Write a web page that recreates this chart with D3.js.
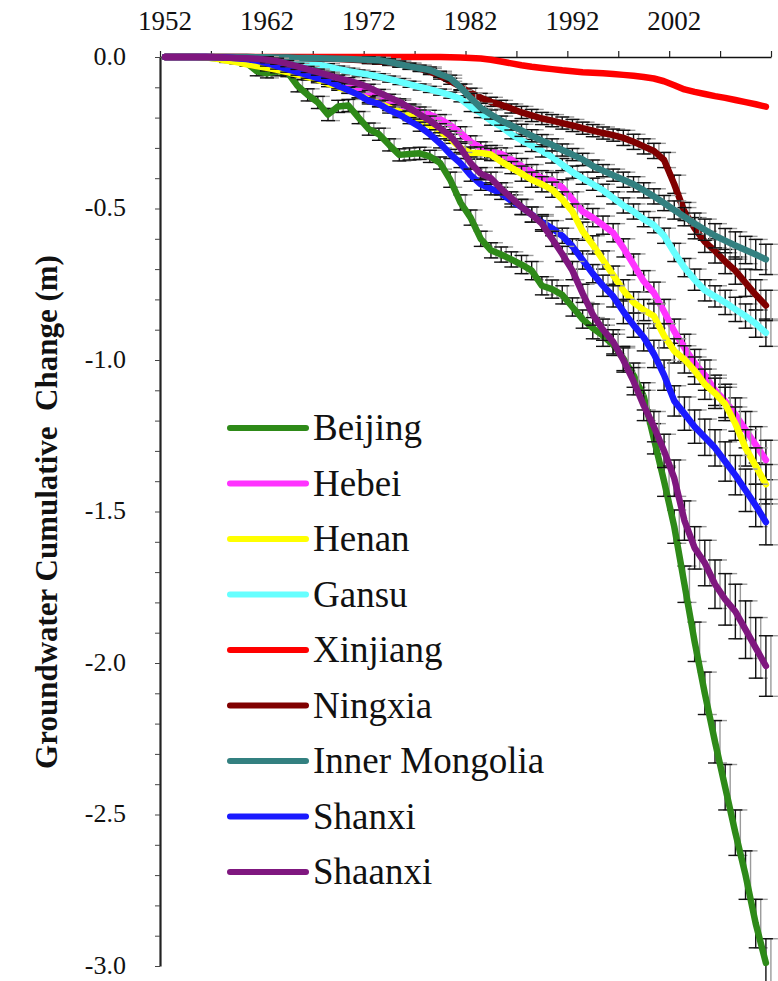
<!DOCTYPE html>
<html>
<head>
<meta charset="utf-8">
<script src="https://cdn.jsdelivr.net/npm/d3@7"></script>
<style>
  body { margin: 0; background: #fff; }
  text { font-family: "Liberation Serif", "Times New Roman", Times, "DejaVu Serif", serif; fill: #111; }
</style>
</head>
<body>
<script>
//size of svg
const canvWidth = 778;
const canvHeight = 981;

//plot box (pixel edges of the axes)
const plot = {left: 160, right: 771, top: 57, bottom: 966};

const serif = "'Liberation Serif', 'Times New Roman', Times, 'DejaVu Serif', serif";

//**************************************************************************
//Data

const years = [
  1952, 1953, 1954, 1955, 1956, 1957, 1958, 1959, 1960, 1961,
  1962, 1963, 1964, 1965, 1966, 1967, 1968, 1969, 1970, 1971,
  1972, 1973, 1974, 1975, 1976, 1977, 1978, 1979, 1980, 1981,
  1982, 1983, 1984, 1985, 1986, 1987, 1988, 1989, 1990, 1991,
  1992, 1993, 1994, 1995, 1996, 1997, 1998, 1999, 2000, 2001,
  2002, 2003, 2004, 2005, 2006, 2007, 2008, 2009, 2010, 2011
];

const xTickLabels = ["1952", "1962", "1972", "1982", "1992", "2002"];
const yTickLabels = ["0.0", "-0.5", "-1.0", "-1.5", "-2.0", "-2.5", "-3.0"];

const provinces = ["Beijing", "Hebei", "Henan", "Gansu", "Xinjiang", "Ningxia", "Inner Mongolia", "Shanxi", "Shaanxi"];
const colors = ["#2e8a18", "#ff33ff", "#ffff00", "#66ffff", "#ff0000", "#800000", "#338080", "#1a1aff", "#7f177f"];

const beijing = [
  0, 0, 0, 0, -0.002, -0.004, -0.008, -0.012, -0.02, -0.047,
  -0.054, -0.047, -0.05, -0.095, -0.125, -0.15, -0.19, -0.163, -0.16, -0.2,
  -0.238, -0.255, -0.29, -0.323, -0.32, -0.318, -0.328, -0.35, -0.405, -0.48,
  -0.53, -0.6, -0.638, -0.652, -0.668, -0.685, -0.705, -0.755, -0.766, -0.785,
  -0.825, -0.865, -0.895, -0.92, -0.95, -0.995, -1.05, -1.12, -1.26, -1.40,
  -1.55, -1.74, -1.93, -2.10, -2.26, -2.41, -2.56, -2.70, -2.86, -2.99
];
const hebei = [
  0, 0, 0, 0, 0, -0.001, -0.002, -0.003, -0.005, -0.007,
  -0.01, -0.015, -0.022, -0.03, -0.04, -0.052, -0.065, -0.08, -0.095, -0.108,
  -0.12, -0.132, -0.145, -0.158, -0.17, -0.18, -0.191, -0.205, -0.225, -0.25,
  -0.28, -0.3, -0.312, -0.32, -0.338, -0.36, -0.38, -0.4, -0.406, -0.43,
  -0.47, -0.51, -0.53, -0.555, -0.58, -0.63, -0.685, -0.74, -0.778, -0.84,
  -0.905, -0.96, -1.01, -1.05, -1.1, -1.135, -1.18, -1.23, -1.28, -1.33
];
const henan = [
  0, 0, 0, 0, -0.002, -0.005, -0.012, -0.017, -0.024, -0.03,
  -0.036, -0.042, -0.05, -0.058, -0.066, -0.075, -0.088, -0.1, -0.11, -0.125,
  -0.14, -0.153, -0.167, -0.18, -0.195, -0.21, -0.225, -0.245, -0.27, -0.3,
  -0.317, -0.317, -0.322, -0.345, -0.365, -0.385, -0.405, -0.42, -0.438, -0.47,
  -0.51, -0.575, -0.62, -0.67, -0.72, -0.77, -0.81, -0.835, -0.855, -0.92,
  -0.97, -0.998, -1.035, -1.08, -1.11, -1.145, -1.21, -1.29, -1.35, -1.41
];
const gansu = [
  0, 0, 0, 0, 0, 0, 0, -0.001, -0.002, -0.003,
  -0.005, -0.007, -0.01, -0.014, -0.019, -0.025, -0.032, -0.04, -0.047, -0.053,
  -0.058, -0.065, -0.073, -0.081, -0.09, -0.099, -0.107, -0.116, -0.126, -0.138,
  -0.165, -0.185, -0.21, -0.23, -0.255, -0.275, -0.292, -0.31, -0.33, -0.355,
  -0.38, -0.4, -0.42, -0.44, -0.465, -0.49, -0.51, -0.535, -0.555, -0.59,
  -0.645, -0.695, -0.735, -0.77, -0.79, -0.81, -0.833, -0.855, -0.88, -0.91
];
const xinjiang = [
  0, 0, 0, 0, 0, 0, 0, 0, 0, 0,
  0, 0, 0, 0, 0, 0, 0, 0, 0, 0,
  0, 0, 0, 0, 0, 0, 0, 0, -0.001, -0.002,
  -0.003, -0.005, -0.009, -0.015, -0.021, -0.027, -0.032, -0.036, -0.04, -0.044,
  -0.047, -0.05, -0.052, -0.054, -0.056, -0.059, -0.062, -0.066, -0.071, -0.08,
  -0.093, -0.107, -0.115, -0.122, -0.129, -0.135, -0.142, -0.149, -0.156, -0.164
];
const ningxia = [
  0, 0, 0, 0, 0, 0, 0, 0, 0, -0.001,
  -0.001, -0.002, -0.002, -0.003, -0.004, -0.005, -0.006, -0.007, -0.008, -0.01,
  -0.012, -0.014, -0.018, -0.023, -0.03, -0.038, -0.048, -0.063, -0.08, -0.098,
  -0.118, -0.135, -0.148, -0.158, -0.17, -0.183, -0.193, -0.203, -0.21, -0.218,
  -0.226, -0.235, -0.243, -0.251, -0.258, -0.267, -0.28, -0.295, -0.31, -0.34,
  -0.42, -0.51, -0.565, -0.61, -0.64, -0.675, -0.705, -0.745, -0.785, -0.82
];
const innerMongolia = [
  0, 0, 0, 0, 0, 0, 0, 0, 0, -0.001,
  -0.001, -0.002, -0.002, -0.003, -0.003, -0.004, -0.005, -0.006, -0.007, -0.008,
  -0.009, -0.011, -0.016, -0.024, -0.031, -0.037, -0.043, -0.057, -0.07, -0.1,
  -0.135, -0.168, -0.19, -0.21, -0.226, -0.242, -0.26, -0.276, -0.29, -0.307,
  -0.322, -0.338, -0.36, -0.375, -0.39, -0.405, -0.42, -0.44, -0.46, -0.482,
  -0.505, -0.527, -0.55, -0.57, -0.59, -0.606, -0.622, -0.637, -0.652, -0.668
];
const shanxi = [
  0, 0, 0, 0, 0, -0.001, -0.002, -0.004, -0.007, -0.012,
  -0.02, -0.03, -0.04, -0.05, -0.06, -0.07, -0.08, -0.095, -0.11, -0.125,
  -0.145, -0.155, -0.175, -0.19, -0.21, -0.23, -0.255, -0.285, -0.32, -0.35,
  -0.39, -0.42, -0.435, -0.45, -0.475, -0.495, -0.52, -0.545, -0.565, -0.59,
  -0.625, -0.67, -0.715, -0.755, -0.79, -0.84, -0.885, -0.925, -0.98, -1.05,
  -1.135, -1.177, -1.22, -1.255, -1.29, -1.335, -1.38, -1.43, -1.48, -1.535
];
const shaanxi = [
  0, 0, 0, 0, 0, -0.001, -0.002, -0.003, -0.004, -0.006,
  -0.009, -0.014, -0.022, -0.031, -0.041, -0.05, -0.06, -0.07, -0.078, -0.088,
  -0.1, -0.117, -0.133, -0.148, -0.168, -0.19, -0.21, -0.235, -0.26, -0.3,
  -0.35, -0.385, -0.4, -0.435, -0.465, -0.495, -0.52, -0.55, -0.6, -0.65,
  -0.705, -0.78, -0.85, -0.9, -0.94, -1.0, -1.07, -1.15, -1.22, -1.3,
  -1.39, -1.53, -1.62, -1.67, -1.74, -1.79, -1.83, -1.89, -1.95, -2.01
];

//error bars (+/- m), same years
const errBeijing = [
  0, 0, 0, 0, 0, 0, 0.01, 0.01, 0.01, 0.015,
  0.015, 0.015, 0.015, 0.02, 0.02, 0.02, 0.02, 0.02, 0.02, 0.02,
  0.02, 0.02, 0.02, 0.02, 0.02, 0.02, 0.02, 0.02, 0.025, 0.025,
  0.025, 0.025, 0.025, 0.025, 0.025, 0.03, 0.03, 0.03, 0.03, 0.03,
  0.03, 0.03, 0.035, 0.035, 0.035, 0.04, 0.04, 0.045, 0.05, 0.05,
  0.055, 0.06, 0.065, 0.07, 0.07, 0.075, 0.075, 0.08, 0.08, 0.08
];
const errHebei = [
  0, 0, 0, 0, 0, 0, 0.005, 0.005, 0.005, 0.005,
  0.01, 0.01, 0.01, 0.01, 0.01, 0.01, 0.01, 0.01, 0.01, 0.01,
  0.01, 0.01, 0.01, 0.015, 0.015, 0.015, 0.015, 0.015, 0.015, 0.02,
  0.02, 0.02, 0.02, 0.02, 0.02, 0.025, 0.025, 0.025, 0.025, 0.025,
  0.025, 0.025, 0.03, 0.03, 0.03, 0.03, 0.035, 0.035, 0.035, 0.04,
  0.04, 0.045, 0.045, 0.05, 0.05, 0.055, 0.055, 0.06, 0.06, 0.065
];
const errHenan = [
  0, 0, 0, 0, 0, 0, 0.005, 0.005, 0.005, 0.005,
  0.01, 0.01, 0.01, 0.01, 0.01, 0.01, 0.01, 0.01, 0.01, 0.01,
  0.01, 0.01, 0.01, 0.015, 0.015, 0.015, 0.015, 0.015, 0.015, 0.02,
  0.02, 0.02, 0.02, 0.02, 0.02, 0.025, 0.025, 0.025, 0.025, 0.025,
  0.025, 0.03, 0.03, 0.03, 0.03, 0.035, 0.035, 0.035, 0.04, 0.04,
  0.04, 0.045, 0.045, 0.05, 0.05, 0.055, 0.055, 0.06, 0.06, 0.065
];
const errGansu = [
  0, 0, 0, 0, 0, 0, 0, 0, 0.005, 0.005,
  0.005, 0.005, 0.005, 0.005, 0.005, 0.01, 0.01, 0.01, 0.01, 0.01,
  0.01, 0.01, 0.01, 0.01, 0.01, 0.01, 0.01, 0.01, 0.01, 0.01,
  0.015, 0.015, 0.015, 0.015, 0.015, 0.02, 0.02, 0.02, 0.02, 0.02,
  0.02, 0.02, 0.02, 0.02, 0.02, 0.025, 0.025, 0.025, 0.025, 0.025,
  0.03, 0.03, 0.035, 0.035, 0.035, 0.04, 0.04, 0.04, 0.045, 0.045
];
const errXinjiang = [];
const errNingxia = [
  0, 0, 0, 0, 0, 0, 0, 0, 0, 0,
  0.005, 0.005, 0.005, 0.005, 0.005, 0.005, 0.005, 0.005, 0.005, 0.005,
  0.01, 0.01, 0.01, 0.01, 0.01, 0.01, 0.01, 0.01, 0.01, 0.01,
  0.015, 0.015, 0.015, 0.015, 0.015, 0.02, 0.02, 0.02, 0.02, 0.02,
  0.02, 0.02, 0.02, 0.02, 0.02, 0.025, 0.025, 0.025, 0.025, 0.025,
  0.03, 0.03, 0.035, 0.035, 0.04, 0.04, 0.045, 0.045, 0.05, 0.05
];
const errInnerMongolia = [
  0, 0, 0, 0, 0, 0, 0, 0, 0, 0,
  0.005, 0.005, 0.005, 0.005, 0.005, 0.005, 0.005, 0.005, 0.005, 0.005,
  0.01, 0.01, 0.01, 0.01, 0.01, 0.01, 0.01, 0.01, 0.01, 0.01,
  0.015, 0.015, 0.015, 0.015, 0.015, 0.02, 0.02, 0.02, 0.02, 0.02,
  0.02, 0.02, 0.02, 0.02, 0.02, 0.025, 0.025, 0.025, 0.025, 0.025,
  0.03, 0.03, 0.035, 0.035, 0.04, 0.04, 0.045, 0.045, 0.05, 0.05
];
const errShanxi = [
  0, 0, 0, 0, 0, 0, 0.005, 0.005, 0.005, 0.005,
  0.01, 0.01, 0.01, 0.01, 0.01, 0.01, 0.01, 0.01, 0.01, 0.01,
  0.01, 0.01, 0.01, 0.01, 0.01, 0.015, 0.015, 0.015, 0.015, 0.015,
  0.02, 0.02, 0.02, 0.02, 0.02, 0.025, 0.025, 0.025, 0.025, 0.025,
  0.025, 0.03, 0.03, 0.035, 0.035, 0.04, 0.04, 0.045, 0.045, 0.05,
  0.05, 0.055, 0.055, 0.06, 0.06, 0.065, 0.065, 0.07, 0.07, 0.075
];
const errShaanxi = [
  0, 0, 0, 0, 0, 0, 0.005, 0.005, 0.005, 0.005,
  0.01, 0.01, 0.01, 0.01, 0.01, 0.01, 0.01, 0.01, 0.01, 0.01,
  0.01, 0.01, 0.01, 0.01, 0.01, 0.015, 0.015, 0.015, 0.015, 0.015,
  0.02, 0.02, 0.02, 0.02, 0.02, 0.025, 0.025, 0.025, 0.025, 0.025,
  0.03, 0.03, 0.035, 0.035, 0.04, 0.04, 0.045, 0.05, 0.05, 0.055,
  0.06, 0.065, 0.07, 0.075, 0.08, 0.085, 0.09, 0.095, 0.1, 0.1
];

const seriesValues = [beijing, hebei, henan, gansu, xinjiang, ningxia, innerMongolia, shanxi, shaanxi];
const seriesErrors = [errBeijing, errHebei, errHenan, errGansu, errXinjiang, errNingxia, errInnerMongolia, errShanxi, errShaanxi];

//table built from the arrays above
const series = provinces.map((name, i) => ({
  name: name,
  color: colors[i],
  points: years.map((yr, j) => ({year: yr, value: seriesValues[i][j], err: seriesErrors[i][j] || 0}))
}));

//**************************************************************************
//svg

const svg = d3.select("body").append("svg")
  .attr("width", canvWidth)
  .attr("height", canvHeight);

//**************************************************************************
//Scales

const xScale = d3.scaleLinear().domain([1952, 2012]).range([plot.left, plot.right]);
const yScale = d3.scaleLinear().domain([0, -3]).range([plot.top, plot.bottom]);

//points sit in the middle of each year slot
const xPos = yr => xScale(yr + 0.5);

//**************************************************************************
//Axes

//x axis on top, a tick every 5 years
const xAxis = d3.axisTop(xScale)
  .tickValues(d3.range(1952, 2013, 5))
  .tickFormat("")
  .tickSizeInner(6)
  .tickSizeOuter(0);

svg.append("g")
  .attr("id", "x-axis")
  .attr("transform", `translate(0,${plot.top})`)
  .call(xAxis)
  .call(g => g.selectAll("line").attr("stroke", "#222").attr("stroke-width", 1.2))
  .call(g => g.select(".domain").attr("stroke", "#111").attr("stroke-width", 1.5));

svg.selectAll(".x-label")
  .data(xTickLabels)
  .enter().append("text")
  .attr("class", "x-label")
  .attr("x", d => xPos(+d))
  .attr("y", 30)
  .attr("text-anchor", "middle")
  .attr("font-family", serif)
  .style("font-size", "27px")
  .text(d => d);

//y axis, minor tick every 0.1
const yAxis = d3.axisLeft(yScale)
  .tickValues(d3.range(0, 31).map(k => -k / 10))
  .tickFormat("")
  .tickSizeInner(5)
  .tickSizeOuter(0);

svg.append("g")
  .attr("id", "y-axis")
  .attr("transform", `translate(${plot.left},0)`)
  .call(yAxis)
  .call(g => g.selectAll("line").attr("stroke", "#444").attr("stroke-width", 1))
  .call(g => g.select(".domain").attr("stroke", "#222").attr("stroke-width", 2.2));

svg.selectAll(".y-label")
  .data(yTickLabels)
  .enter().append("text")
  .attr("class", "y-label")
  .attr("x", 126)
  .attr("y", d => yScale(+d))
  .attr("dy", "0.3em")
  .attr("text-anchor", "end")
  .attr("font-family", serif)
  .style("font-size", "26px")
  .text(d => d);

//y axis title
svg.append("text")
  .attr("transform", "rotate(-90)")
  .attr("x", -512)
  .attr("y", 57)
  .attr("text-anchor", "middle")
  .attr("font-family", serif)
  .style("font-size", "31px")
  .style("font-weight", "bold")
  .style("white-space", "pre")
  .text("Groundwater Cumulative  Change (m)");

//**************************************************************************
//Lines and error bars

const line = d3.line()
  .x(d => xPos(d.year))
  .y(d => yScale(d.value));

const capHalf = 7;

series.forEach(s => {
  const g = svg.append("g").attr("class", "series");
  const bars = s.points.filter(p => p.err > 0);

  //grey shadow bar, slightly to the right
  const shadow = g.append("g").attr("stroke", "#9a9a9a").attr("stroke-width", 1.4);
  const black = g.append("g").attr("stroke", "#111").attr("stroke-width", 1.4);

  [[shadow, 5], [black, 0]].forEach(([grp, off]) => {
    const e = grp.selectAll("g").data(bars).enter().append("g");
    e.append("line")
      .attr("x1", d => xPos(d.year) + off).attr("x2", d => xPos(d.year) + off)
      .attr("y1", d => yScale(d.value + d.err)).attr("y2", d => yScale(d.value - d.err));
    e.append("line")
      .attr("x1", d => xPos(d.year) + off - capHalf).attr("x2", d => xPos(d.year) + off + capHalf)
      .attr("y1", d => yScale(d.value + d.err)).attr("y2", d => yScale(d.value + d.err));
    e.append("line")
      .attr("x1", d => xPos(d.year) + off - capHalf).attr("x2", d => xPos(d.year) + off + capHalf)
      .attr("y1", d => yScale(d.value - d.err)).attr("y2", d => yScale(d.value - d.err));
  });

  g.append("path")
    .datum(s.points)
    .attr("fill", "none")
    .attr("stroke", s.color)
    .attr("stroke-width", 6.5)
    .attr("stroke-linejoin", "round")
    .attr("stroke-linecap", "round")
    .attr("d", line);
});

//**************************************************************************
//Legend

const legendX = 230;
const legendY = 428;
const legendStep = 55.5;

const legend = svg.append("g").attr("id", "legend");
const items = legend.selectAll("g")
  .data(series)
  .enter().append("g")
  .attr("transform", (d, i) => `translate(${legendX},${legendY + i * legendStep})`);

items.append("line")
  .attr("x1", 0).attr("x2", 76)
  .attr("stroke", d => d.color)
  .attr("stroke-width", 6)
  .attr("stroke-linecap", "round");

items.append("text")
  .attr("x", 83)
  .attr("y", 12)
  .attr("font-family", serif)
  .style("font-size", "37px")
  .text(d => d.name);
</script>
</body>
</html>
